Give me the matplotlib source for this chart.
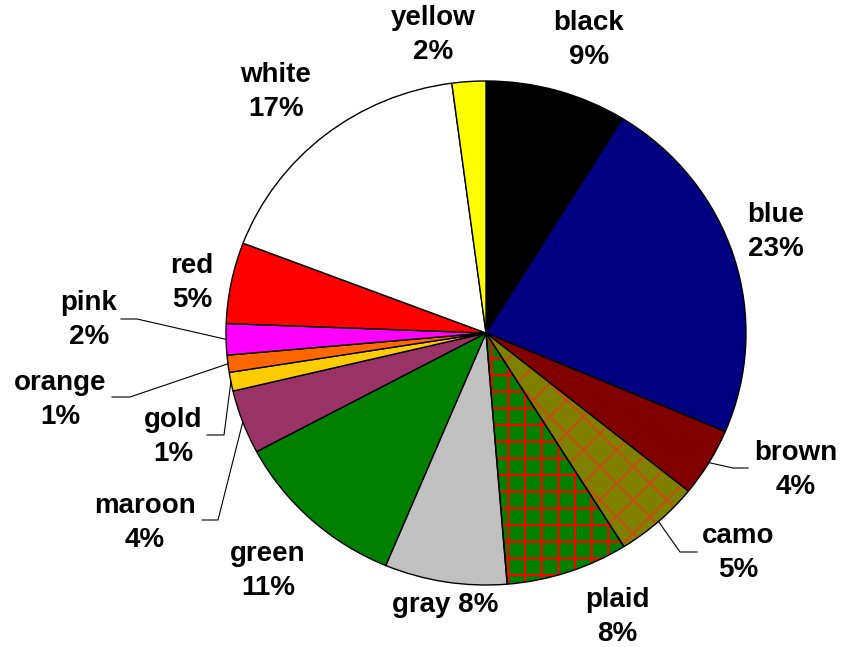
import matplotlib
matplotlib.use('Agg')
import matplotlib.pyplot as plt
import numpy as np

plt.rcParams['font.family'] = ['Liberation Sans', 'DejaVu Sans']
plt.rcParams['hatch.linewidth'] = 1.5

# shares of each colour (clockwise from 12 o'clock)
names = ['black', 'blue', 'brown', 'camo', 'plaid', 'gray', 'green',
         'maroon', 'gold', 'orange', 'pink', 'red', 'white', 'yellow']
shares = [8.8, 22.6, 4.4, 5.3, 7.6, 7.6, 10.9, 4.1, 1.2, 1.1, 2.0, 5.2, 17.1, 2.1]
colors = ['#000000', '#000080', '#800000', '#808000', '#008000', '#C0C0C0', '#008000',
          '#993366', '#FFCC00', '#FF6600', '#FF00FF', '#FF0000', '#FFFFFF', '#FFFF00']
hatches = {'camo': ('x', '#C05010'), 'plaid': ('+', '#FF0000')}

# pixel layout of the picture: pie centre and radii
W, H = 842, 647
cx, cy, rx, ry = 486, 333, 260, 252

def px(x, y):
    return (x - cx) / rx, (cy - y) / ry

# label centres (pixels) and leader lines (elbow x, elbow y, end x)
label_pos = {'black': (589, 40), 'blue': (776, 232), 'brown': (796, 470),
             'camo': (738, 553), 'plaid': (617, 617), 'gray': (445, 605),
             'green': (268, 571), 'maroon': (145, 523), 'gold': (173, 437),
             'orange': (60, 400), 'pink': (89, 320), 'red': (192, 283),
             'white': (276, 92), 'yellow': (433, 35)}
leaders = {'brown': (733, 468, 748), 'camo': (680, 552, 697),
           'maroon': (218, 520, 202), 'gold': (224, 435, 207),
           'orange': (130, 397, 112), 'pink': (137, 319, 121)}

fig = plt.figure(figsize=(W / 100, H / 100), dpi=100)
ax = fig.add_axes([0, 0, 1, 1])

wedges, _ = ax.pie(shares, colors=colors, startangle=90, counterclock=False,
                   radius=1, wedgeprops=dict(edgecolor='black', linewidth=1))
for w, n in zip(wedges, names):
    if n in hatches:
        h, hc = hatches[n]
        w.set_edgecolor(hc)
        w.set_linewidth(0)
        w.set_hatch(h)
        ov = matplotlib.patches.Wedge(w.center, w.r, w.theta1, w.theta2,
                                      facecolor='none', edgecolor='black', linewidth=1)
        ax.add_patch(ov)

ax.set_aspect('auto')
ax.set_xlim(-cx / rx, (W - cx) / rx)
ax.set_ylim((cy - H) / ry, cy / ry)
ax.axis('off')

for w, n, s in zip(wedges, names, shares):
    pct = '%d%%' % int(round(s))
    txt = n + ' ' + pct if n == 'gray' else n + '\n' + pct
    lx, ly = px(*label_pos[n])
    ax.text(lx, ly, txt, ha='center', va='center', fontsize=20,
            fontweight='bold', linespacing=1.4)
    if n in leaders:
        mid = np.deg2rad((w.theta1 + w.theta2) / 2)
        sx, sy = np.cos(mid), np.sin(mid)
        ex, ey = px(leaders[n][0], leaders[n][1])
        hx, _ = px(leaders[n][2], 0)
        ax.plot([sx, ex, hx], [sy, ey, ey], color='black', linewidth=0.8)

fig.savefig('out.png', dpi=100)
